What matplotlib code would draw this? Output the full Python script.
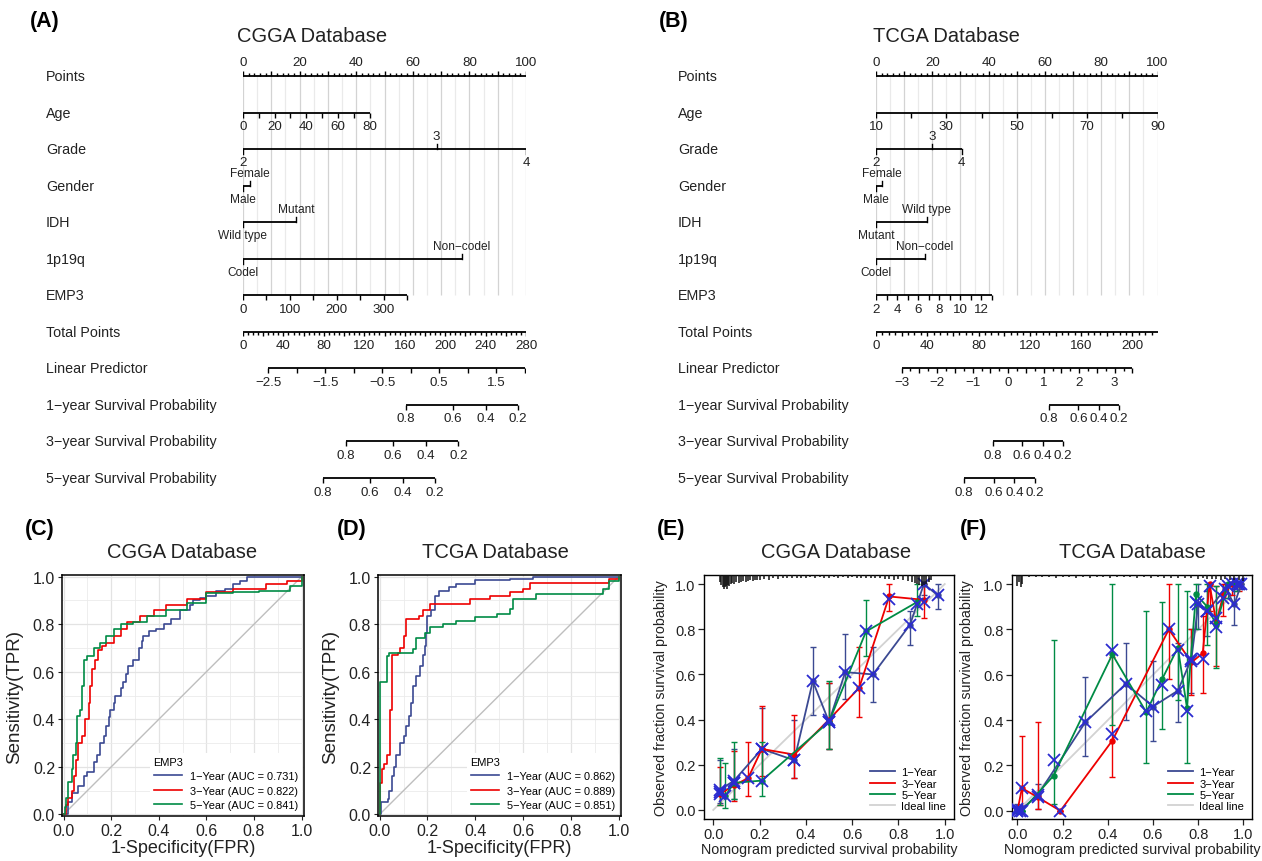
import numpy as np
import matplotlib.pyplot as plt
from matplotlib import transforms
from matplotlib.lines import Line2D

plt.rcParams['font.family'] = ['Liberation Sans', 'DejaVu Sans']

W, H = 1262, 862

# ---------------- nomogram data (value -> points) ----------------
ROW_LABELS = ['Points', 'Age', 'Grade', 'Gender', 'IDH', '1p19q', 'EMP3',
              'Total Points', 'Linear Predictor',
              '1\u2212year Survival Probability', '3\u2212year Survival Probability',
              '5\u2212year Survival Probability']
SURV_LABELS = ['0.8', '0.6', '0.4', '0.2']

# (A) CGGA
CGGA_AGE = [0, 80]
CGGA_AGE_PTS = [0, 44.7]
CGGA_GRADE = ['2', '3', '4']
CGGA_GRADE_PTS = [0, 68.4, 100]
CGGA_GENDER = ['Male', 'Female']
CGGA_GENDER_PTS = [0, 2.3]
CGGA_IDH = ['Wild type', 'Mutant']
CGGA_IDH_PTS = [0, 18.7]
CGGA_CODEL = ['Codel', 'Non\u2212codel']
CGGA_CODEL_PTS = [0, 77.3]
CGGA_EMP3 = [0, 350]
CGGA_EMP3_PTS = [0, 58.0]
CGGA_TOTAL = [0, 280]
CGGA_LP = [-2.5, 2.0]
CGGA_LP_PTS = [8.9, 99.5]
CGGA_SURV1_PTS = [57.7, 74.2, 85.8, 97.2]
CGGA_SURV3_PTS = [36.5, 52.9, 64.6, 76.1]
CGGA_SURV5_PTS = [28.2, 44.7, 56.5, 67.8]

# (B) TCGA
TCGA_AGE = [10, 90]
TCGA_AGE_PTS = [0, 100]
TCGA_GRADE = ['2', '3', '4']
TCGA_GRADE_PTS = [0, 19.9, 30.4]
TCGA_GENDER = ['Male', 'Female']
TCGA_GENDER_PTS = [0, 2.2]
TCGA_IDH = ['Mutant', 'Wild type']
TCGA_IDH_PTS = [0, 18.0]
TCGA_CODEL = ['Codel', 'Non\u2212codel']
TCGA_CODEL_PTS = [0, 17.4]
TCGA_EMP3 = [2, 13]
TCGA_EMP3_PTS = [0, 41.1]
TCGA_TOTAL = [0, 219.5]
TCGA_LP = [-3.0, 3.5]
TCGA_LP_PTS = [9.1, 91.1]
TCGA_SURV1_PTS = [61.3, 71.9, 79.2, 86.4]
TCGA_SURV3_PTS = [41.4, 51.8, 59.2, 66.4]
TCGA_SURV5_PTS = [31.3, 41.8, 49.2, 56.4]

# ---------------- ROC data ----------------
C_1Y_FPR = [0, 0.02, 0.035, 0.06, 0.084, 0.10, 0.126, 0.14, 0.154, 0.17, 0.18, 0.19, 0.196, 0.21, 0.217,
            0.24, 0.25, 0.26, 0.27, 0.29, 0.315, 0.33, 0.335, 0.36, 0.39, 0.42, 0.45, 0.49, 0.53, 0.545,
            0.575, 0.60, 0.64, 0.68, 0.71, 0.74, 0.77, 1.0]
C_1Y_TPR = [0, 0.05, 0.09, 0.12, 0.16, 0.18, 0.22, 0.25, 0.30, 0.33, 0.37, 0.41, 0.44, 0.47, 0.50,
            0.53, 0.555, 0.59, 0.625, 0.65, 0.70, 0.73, 0.75, 0.77, 0.78, 0.80, 0.82, 0.86, 0.88, 0.90,
            0.91, 0.92, 0.94, 0.95, 0.97, 0.98, 1.0, 1.0]
C_3Y_FPR = [0, 0.01, 0.02, 0.035, 0.045, 0.05, 0.06, 0.077, 0.09, 0.105, 0.11, 0.12, 0.133, 0.143,
            0.16, 0.18, 0.21, 0.24, 0.265, 0.32, 0.38, 0.43, 0.52, 0.60, 0.71, 0.85, 0.94, 1.0]
C_3Y_TPR = [0, 0.04, 0.07, 0.10, 0.16, 0.23, 0.30, 0.33, 0.40, 0.47, 0.54, 0.61, 0.65, 0.69,
            0.71, 0.72, 0.75, 0.78, 0.81, 0.835, 0.86, 0.88, 0.905, 0.935, 0.95, 0.97, 0.98, 1.0]
C_5Y_FPR = [0, 0.005, 0.01, 0.02, 0.035, 0.04, 0.05, 0.056, 0.07, 0.077, 0.084, 0.10, 0.126, 0.154,
            0.18, 0.21, 0.24, 0.29, 0.35, 0.43, 0.52, 0.60, 0.71, 0.82, 0.895, 0.95, 1.0]
C_5Y_TPR = [0, 0.03, 0.07, 0.135, 0.19, 0.25, 0.30, 0.415, 0.44, 0.54, 0.65, 0.665, 0.70, 0.72,
            0.75, 0.78, 0.80, 0.81, 0.835, 0.86, 0.89, 0.93, 0.935, 0.94, 0.94, 0.96, 1.0]
C_AUC = [0.731, 0.822, 0.841]

D_1Y_FPR = [0, 0.005, 0.035, 0.04, 0.05, 0.06, 0.07, 0.084, 0.10, 0.11, 0.123, 0.13, 0.14, 0.153,
            0.167, 0.18, 0.19, 0.195, 0.20, 0.216, 0.23, 0.25, 0.29, 0.32, 0.40, 0.545, 0.64, 1.0]
D_1Y_TPR = [0, 0.05, 0.065, 0.10, 0.16, 0.20, 0.25, 0.30, 0.33, 0.37, 0.415, 0.47, 0.54, 0.58,
            0.625, 0.67, 0.71, 0.765, 0.835, 0.86, 0.92, 0.94, 0.955, 0.97, 0.985, 0.99, 1.0, 1.0]
D_3Y_FPR = [0, 0.003, 0.01, 0.02, 0.03, 0.04, 0.045, 0.05, 0.077, 0.085, 0.10, 0.11, 0.153, 0.165,
            0.18, 0.21, 0.335, 0.377, 0.46, 0.545, 0.60, 0.63, 0.905, 0.96, 1.0]
D_3Y_TPR = [0, 0.13, 0.19, 0.21, 0.25, 0.25, 0.44, 0.67, 0.68, 0.70, 0.75, 0.82, 0.82, 0.835,
            0.86, 0.885, 0.885, 0.905, 0.92, 0.935, 0.95, 0.975, 0.975, 0.99, 1.0]
D_5Y_FPR = [0, 0.0, 0.02, 0.03, 0.04, 0.11, 0.14, 0.153, 0.19, 0.21, 0.265, 0.32, 0.40, 0.49,
            0.545, 0.56, 0.655, 0.82, 0.935, 0.96, 1.0]
D_5Y_TPR = [0, 0.555, 0.555, 0.665, 0.68, 0.68, 0.695, 0.74, 0.765, 0.787, 0.80, 0.815, 0.83, 0.845,
            0.865, 0.905, 0.925, 0.925, 0.95, 0.98, 1.0]
D_AUC = [0.862, 0.889, 0.851]

# ---------------- calibration data ----------------
E_1Y_X = [0.03, 0.09, 0.21, 0.35, 0.43, 0.50, 0.57, 0.69, 0.85, 0.91, 0.97]
E_1Y_Y = [0.09, 0.13, 0.27, 0.22, 0.57, 0.39, 0.61, 0.60, 0.82, 1.00, 0.95]
E_1Y_LO = [0.03, 0.05, 0.12, 0.14, 0.42, 0.27, 0.49, 0.48, 0.73, 0.95, 0.89]
E_1Y_HI = [0.22, 0.27, 0.45, 0.40, 0.72, 0.56, 0.78, 0.72, 0.88, 1.00, 1.00]
E_1Y_BC = [0.09, 0.13, 0.27, 0.22, 0.57, 0.39, 0.61, 0.60, 0.82, 1.00, 0.95]
E_3Y_X = [0.03, 0.09, 0.15, 0.21, 0.35, 0.50, 0.63, 0.76, 0.91]
E_3Y_Y = [0.07, 0.11, 0.14, 0.27, 0.245, 0.40, 0.54, 0.945, 0.93]
E_3Y_LO = [0.02, 0.04, 0.06, 0.15, 0.14, 0.27, 0.41, 0.88, 0.85]
E_3Y_HI = [0.19, 0.26, 0.30, 0.46, 0.42, 0.56, 0.72, 1.00, 1.00]
E_3Y_BC = [0.07, 0.12, 0.14, 0.27, 0.22, 0.40, 0.54, 0.935, 0.92]
E_5Y_X = [0.03, 0.05, 0.09, 0.21, 0.50, 0.66, 0.88]
E_5Y_Y = [0.08, 0.06, 0.12, 0.13, 0.39, 0.79, 0.92]
E_5Y_LO = [0.02, 0.01, 0.05, 0.06, 0.27, 0.68, 0.86]
E_5Y_HI = [0.23, 0.21, 0.30, 0.30, 0.57, 0.93, 1.00]
E_5Y_BC = [0.08, 0.06, 0.12, 0.13, 0.39, 0.79, 0.91]

F_1Y_X = [0.00, 0.01, 0.09, 0.30, 0.48, 0.60, 0.71, 0.77, 0.80, 0.84, 0.92, 0.96, 0.99]
F_1Y_Y = [0.01, 0.00, 0.07, 0.39, 0.56, 0.46, 0.53, 0.67, 0.91, 0.88, 0.98, 0.91, 1.00]
F_1Y_LO = [0.00, 0.00, 0.01, 0.24, 0.40, 0.31, 0.39, 0.52, 0.80, 0.77, 0.94, 0.82, 0.98]
F_1Y_HI = [0.03, 0.02, 0.12, 0.59, 0.74, 0.66, 0.74, 0.80, 1.00, 0.97, 1.00, 1.00, 1.00]
F_1Y_BC = [0.01, 0.00, 0.07, 0.39, 0.56, 0.46, 0.53, 0.67, 0.91, 0.88, 0.98, 0.91, 1.00]
F_3Y_X = [0.00, 0.02, 0.09, 0.19, 0.42, 0.67, 0.77, 0.82, 0.85, 0.88, 0.91, 0.95, 0.98]
F_3Y_Y = [0.00, 0.10, 0.06, 0.00, 0.31, 0.80, 0.655, 0.695, 1.00, 0.83, 0.95, 1.00, 1.00]
F_3Y_LO = [0.00, 0.00, 0.01, 0.00, 0.15, 0.58, 0.51, 0.52, 0.88, 0.64, 0.86, 0.95, 0.97]
F_3Y_HI = [0.00, 0.33, 0.39, 0.00, 0.68, 1.00, 0.80, 0.86, 1.00, 0.99, 1.00, 1.00, 1.00]
F_3Y_BC = [0.00, 0.10, 0.06, 0.00, 0.34, 0.80, 0.66, 0.67, 0.99, 0.85, 0.94, 1.00, 1.00]
F_5Y_X = [0.00, 0.02, 0.16, 0.42, 0.57, 0.64, 0.71, 0.75, 0.79, 0.84, 0.88, 0.93, 0.97]
F_5Y_Y = [0.00, 0.00, 0.155, 0.69, 0.435, 0.58, 0.72, 0.455, 0.955, 0.90, 0.82, 1.00, 1.00]
F_5Y_LO = [0.00, 0.00, 0.03, 0.38, 0.21, 0.36, 0.49, 0.21, 0.80, 0.73, 0.63, 0.94, 0.97]
F_5Y_HI = [0.00, 0.00, 0.755, 1.00, 0.88, 0.92, 1.00, 0.97, 1.00, 1.00, 0.99, 1.00, 1.00]
F_5Y_BC = [0.00, 0.00, 0.225, 0.71, 0.44, 0.555, 0.71, 0.44, 0.92, 0.88, 0.81, 0.99, 1.00]

# rug of predicted probabilities along the top edge (position, spike length)
E_RUG_X = [0.03, 0.035, 0.04, 0.045, 0.05, 0.055, 0.06, 0.065, 0.07, 0.075,
           0.08, 0.09, 0.10, 0.11, 0.12, 0.13, 0.14, 0.15, 0.16, 0.17,
           0.18, 0.19, 0.20, 0.22, 0.24, 0.26, 0.28, 0.30, 0.32, 0.34,
           0.36, 0.38, 0.40, 0.42, 0.44, 0.46, 0.48, 0.50, 0.52, 0.54,
           0.56, 0.58, 0.60, 0.62, 0.64, 0.66, 0.68, 0.70, 0.72, 0.74,
           0.76, 0.78, 0.80, 0.82, 0.84, 0.86, 0.87, 0.88, 0.89, 0.90,
           0.91, 0.92, 0.93, 0.94]
E_RUG_H = [0.03, 0.045, 0.055, 0.06, 0.055, 0.05, 0.06, 0.045, 0.05, 0.04,
           0.035, 0.04, 0.03, 0.035, 0.03, 0.025, 0.03, 0.025, 0.02, 0.025,
           0.02, 0.02, 0.022, 0.018, 0.02, 0.015, 0.018, 0.015, 0.012, 0.015,
           0.012, 0.014, 0.012, 0.01, 0.013, 0.01, 0.012, 0.014, 0.01, 0.012,
           0.01, 0.013, 0.01, 0.012, 0.014, 0.012, 0.015, 0.013, 0.015, 0.016,
           0.018, 0.02, 0.018, 0.022, 0.025, 0.03, 0.035, 0.04, 0.045, 0.05,
           0.045, 0.04, 0.03, 0.02]
F_RUG_X = [0.0, 0.005, 0.015, 0.02, 0.05, 0.08, 0.11, 0.14, 0.17, 0.20,
           0.23, 0.26, 0.29, 0.32, 0.35, 0.38, 0.41, 0.44, 0.47, 0.50,
           0.53, 0.56, 0.59, 0.62, 0.65, 0.68, 0.71, 0.74, 0.77, 0.80,
           0.82, 0.84, 0.86, 0.88, 0.90, 0.92, 0.94, 0.96, 0.98, 1.0]
F_RUG_H = [0.05, 0.03, 0.055, 0.04, 0.01, 0.008, 0.01, 0.008, 0.012, 0.01,
           0.008, 0.012, 0.01, 0.012, 0.008, 0.01, 0.012, 0.01, 0.008, 0.01,
           0.012, 0.01, 0.012, 0.01, 0.012, 0.014, 0.012, 0.015, 0.014, 0.016,
           0.015, 0.018, 0.016, 0.018, 0.02, 0.018, 0.02, 0.022, 0.02, 0.025]

COLORS = ['#3B4992', '#EE0000', '#008B45']
XMARK = '#2B2BD0'
YEARS = ['1\u2212Year', '3\u2212Year', '5\u2212Year']

fig = plt.figure(figsize=(W / 100, H / 100), dpi=100)


def px_axes(x0, y0, x1, y1):
    return fig.add_axes([x0 / W, 1 - y1 / H, (x1 - x0) / W, (y1 - y0) / H])


# ---------------- nomograms ----------------
ROW_PX = 36.55


def to_pts(vals, rng, pts_rng):
    vals = np.asarray(vals, dtype=float)
    return pts_rng[0] + (vals - rng[0]) * (pts_rng[1] - pts_rng[0]) / (rng[1] - rng[0])


def fmt(v):
    return f'{v:g}'.replace('-', '\u2212')


def ruler(ax, row, tick_x, tick_len, lab_x, labs, up=False, line=None, fs=9.6):
    sgn = -1 if up else 1
    lo, hi = line if line else (min(tick_x), max(tick_x))
    ax.plot([lo, hi], [row, row], color='black', lw=1.3, solid_capstyle='butt')
    ax.vlines(tick_x, row, row + sgn * np.asarray(tick_len, float) / ROW_PX, color='black', lw=1.0)
    for x, s in zip(lab_x, labs):
        ax.text(x, row + sgn * 13.5 / ROW_PX, s, ha='center', va='center', fontsize=fs, color='#222222')


def cat_row(ax, row, pts, labs, fs=8.6):
    ax.plot([min(pts), max(pts)], [row, row], color='black', lw=1.3, solid_capstyle='butt')
    for i, (x, s) in enumerate(zip(pts, labs)):
        sgn = 1 if i % 2 == 0 else -1
        ax.plot([x, x], [row, row + sgn * 5 / ROW_PX], color='black', lw=1.0)
        ax.text(x, row + sgn * 13 / ROW_PX, s, ha='center', va='center', fontsize=fs, color='#222222')


def nomogram(rect, label_x, title, title_x, age, age_pts, age_step, age_lab_step,
             grade, grade_pts, gender, gender_pts, idh, idh_pts, codel, codel_pts,
             emp3, emp3_pts, emp3_step, emp3_lab_step, total, lp, lp_pts, lp_step, lp_labs,
             surv_rows):
    ax = px_axes(*rect)
    ax.set_xlim(0, 100)
    ax.set_ylim(11.5, -0.5)
    ax.axis('off')
    tr = transforms.blended_transform_factory(fig.transFigure, ax.transData)
    for i, lab in enumerate(ROW_LABELS):
        ax.text(label_x / W, i, lab, transform=tr, ha='left', va='center', fontsize=10.3, color='#222222')
    fig.text(title_x / W, 1 - 37 / H, title, ha='center', va='center', fontsize=14.5, color='#222222')

    # reference lines
    ax.vlines(np.arange(5, 100, 10), 0, 6, color='#EAEAEA', lw=0.9, zorder=0)
    ax.vlines(np.arange(0, 101, 10), 0, 6, color='#D3D3D3', lw=0.9, zorder=0)

    # Points
    pt = np.arange(0, 101, 2)
    ruler(ax, 0, pt, np.where(pt % 10 == 0, 4.5, 2.5), np.arange(0, 101, 20),
          [fmt(v) for v in np.arange(0, 101, 20)], up=True)
    # Age
    a_t = np.arange(age[0], age[1] + 0.01, age_step)
    a_l = np.arange(age[0], age[1] + 0.01, age_lab_step)
    ruler(ax, 1, to_pts(a_t, age, age_pts), [5] * len(a_t), to_pts(a_l, age, age_pts), [fmt(v) for v in a_l])
    cat_row(ax, 2, grade_pts, grade, fs=9.6)
    cat_row(ax, 3, gender_pts, gender)
    cat_row(ax, 4, idh_pts, idh)
    cat_row(ax, 5, codel_pts, codel)
    # EMP3
    e_t = np.arange(emp3[0], emp3[1] + 0.01, emp3_step)
    e_l = np.arange(emp3[0], emp3[1] + 0.01, emp3_lab_step)
    ruler(ax, 6, to_pts(e_t, emp3, emp3_pts), [5] * len(e_t), to_pts(e_l, emp3, emp3_pts), [fmt(v) for v in e_l])
    # Total points
    t_t = np.arange(0, total[1] + 0.01, 5)
    t_l = np.arange(0, total[1] + 0.01, 40)
    ruler(ax, 7, to_pts(t_t, total, [0, 100]), np.where(t_t % 20 == 0, 4.5, 2.8),
          to_pts(t_l, total, [0, 100]), [fmt(v) for v in t_l], line=(0, 100))
    # Linear predictor
    l_t = np.arange(lp[0], lp[1] + 0.001, lp_step)
    ruler(ax, 8, to_pts(l_t, lp, lp_pts), np.where(np.isclose(l_t % 0.5, 0) | np.isclose(l_t % 0.5, 0.5), 4.5, 3),
          to_pts(lp_labs, lp, lp_pts), [fmt(v) for v in lp_labs])
    # survival probabilities
    for k, sp in enumerate(surv_rows):
        ruler(ax, 9 + k, sp, [5] * len(sp), sp, SURV_LABELS)
    return ax


nomogram((243, 58.7, 526, 497.3), 46, 'CGGA Database', 312,
         CGGA_AGE, CGGA_AGE_PTS, 10, 20, CGGA_GRADE, CGGA_GRADE_PTS, CGGA_GENDER, CGGA_GENDER_PTS,
         CGGA_IDH, CGGA_IDH_PTS, CGGA_CODEL, CGGA_CODEL_PTS, CGGA_EMP3, CGGA_EMP3_PTS, 50, 100,
         CGGA_TOTAL, CGGA_LP, CGGA_LP_PTS, 0.5, [-2.5, -1.5, -0.5, 0.5, 1.5],
         [CGGA_SURV1_PTS, CGGA_SURV3_PTS, CGGA_SURV5_PTS])
nomogram((876, 58.7, 1157.5, 497.3), 678, 'TCGA Database', 946,
         TCGA_AGE, TCGA_AGE_PTS, 10, 20, TCGA_GRADE, TCGA_GRADE_PTS, TCGA_GENDER, TCGA_GENDER_PTS,
         TCGA_IDH, TCGA_IDH_PTS, TCGA_CODEL, TCGA_CODEL_PTS, TCGA_EMP3, TCGA_EMP3_PTS, 1, 2,
         TCGA_TOTAL, TCGA_LP, TCGA_LP_PTS, 0.25, [-3, -2, -1, 0, 1, 2, 3],
         [TCGA_SURV1_PTS, TCGA_SURV3_PTS, TCGA_SURV5_PTS])


# ---------------- ROC panels ----------------
def roc_panel(rect, title, title_x, curves, aucs):
    ax = px_axes(*rect)
    ax.set_xlim(-0.007, 1.01)
    ax.set_ylim(-0.007, 1.007)
    ticks = np.arange(0, 1.01, 0.2)
    ax.set_xticks(ticks)
    ax.set_yticks(ticks)
    ax.set_xticklabels([f'{t:.1f}' for t in ticks])
    ax.set_yticklabels([f'{t:.1f}' for t in ticks])
    ax.set_xticks(np.arange(0.1, 1, 0.2), minor=True)
    ax.set_yticks(np.arange(0.1, 1, 0.2), minor=True)
    ax.grid(which='major', color='#E3E3E3', lw=0.9)
    ax.grid(which='minor', color='#EBEBEB', lw=0.6)
    ax.set_axisbelow(True)
    ax.tick_params(which='minor', length=0)
    ax.tick_params(which='major', length=3, width=0.8, labelsize=11.5, pad=2, colors='#222222')
    for s in ax.spines.values():
        s.set_linewidth(1.1)
        s.set_color('black')
    ax.plot([0, 1], [0, 1], color='#BEBEBE', lw=1.0)
    for (x, y), c in zip(curves, COLORS):
        ax.plot(x, y, color=c, lw=1.2, drawstyle='steps-post')
    handles = [Line2D([0], [0], color=c, lw=1.2) for c in COLORS]
    labels = [f'{yr} (AUC = {a:.3f})' for yr, a in zip(YEARS, aucs)]
    ax.legend(handles, labels, title='EMP3', loc='lower right', bbox_to_anchor=(1.0, 0.0),
              fontsize=7.9, title_fontsize=7.9, alignment='left', frameon=True,
              facecolor='white', edgecolor='none', framealpha=1, handlelength=2.6,
              handletextpad=0.7, labelspacing=0.4, borderpad=0.35, borderaxespad=0.2)
    ax.set_xlabel('1-Specificity(FPR)', fontsize=13, color='#222222')
    ax.set_ylabel('Sensitivity(TPR)', fontsize=13.5, color='#222222')
    ax.xaxis.set_label_coords(0.5, -0.095)
    ax.yaxis.set_label_coords(-0.16, 0.5)
    fig.text(title_x / W, 1 - 553 / H, title, ha='center', va='center', fontsize=14.5, color='#222222')
    return ax


roc_panel((62, 576, 304, 817), 'CGGA Database', 182,
          [(C_1Y_FPR, C_1Y_TPR), (C_3Y_FPR, C_3Y_TPR), (C_5Y_FPR, C_5Y_TPR)], C_AUC)
roc_panel((378, 576, 621, 817), 'TCGA Database', 495,
          [(D_1Y_FPR, D_1Y_TPR), (D_3Y_FPR, D_3Y_TPR), (D_5Y_FPR, D_5Y_TPR)], D_AUC)


# ---------------- calibration panels ----------------
def calib_panel(rect, title, title_x, series, rug_x, rug_h, xlim, ylim, ylab_x):
    ax = px_axes(*rect)
    ax.set_xlim(*xlim)
    ax.set_ylim(*ylim)
    ticks = np.arange(0, 1.01, 0.2)
    ax.set_xticks(ticks)
    ax.set_yticks(ticks)
    ax.set_xticklabels([f'{t:.1f}' for t in ticks])
    ax.set_yticklabels([f'{t:.1f}' for t in ticks])
    ax.tick_params(direction='out', length=4, width=0.9, labelsize=10.5, pad=2, colors='#222222')
    for s in ax.spines.values():
        s.set_linewidth(1.0)
        s.set_color('black')
    ax.plot([0, 1], [0, 1], color='#D2D2D2', lw=1.3, zorder=1)
    for (x, y, lo, hi, bc), c in zip(series, COLORS):
        x, y, lo, hi = map(np.asarray, (x, y, lo, hi))
        ax.errorbar(x, y, yerr=[y - lo, hi - y], fmt='none', ecolor=c, elinewidth=1.0,
                    capsize=2.2, capthick=1.0, zorder=2)
        ax.plot(x, y, color=c, lw=1.3, marker='o', ms=3.6, zorder=3)
        ax.plot(x, bc, ls='none', marker='x', color=XMARK, ms=8, mew=1.3, zorder=4)
    ax.vlines(rug_x, ylim[1] - np.asarray(rug_h), ylim[1], color='#111111', lw=1.1, zorder=5)
    handles = [Line2D([0], [0], color=c, lw=1.3) for c in COLORS] + [Line2D([0], [0], color='#D2D2D2', lw=1.3)]
    ax.legend(handles, YEARS + ['Ideal line'], loc='lower right', frameon=False, fontsize=8,
              handlelength=2.2, handletextpad=0.6, labelspacing=0.12, borderaxespad=0.3)
    ax.set_xlabel('Nomogram predicted survival probability', fontsize=10.3, color='#222222')
    ax.set_ylabel('Observed fraction survival probability', fontsize=10.3, color='#222222')
    ax.xaxis.set_label_coords(0.5, -0.095)
    ax.yaxis.set_label_coords(ylab_x, 0.5)
    fig.text(title_x / W, 1 - 553 / H, title, ha='center', va='center', fontsize=14.5, color='#222222')
    return ax


calib_panel((704, 576, 954, 820), 'CGGA Database', 836,
            [(E_1Y_X, E_1Y_Y, E_1Y_LO, E_1Y_HI, E_1Y_BC),
             (E_3Y_X, E_3Y_Y, E_3Y_LO, E_3Y_HI, E_3Y_BC),
             (E_5Y_X, E_5Y_Y, E_5Y_LO, E_5Y_HI, E_5Y_BC)],
            E_RUG_X, E_RUG_H, (-0.04, 1.04), (-0.04, 1.04), -0.145)
calib_panel((1012, 576, 1252, 820), 'TCGA Database', 1132,
            [(F_1Y_X, F_1Y_Y, F_1Y_LO, F_1Y_HI, F_1Y_BC),
             (F_3Y_X, F_3Y_Y, F_3Y_LO, F_3Y_HI, F_3Y_BC),
             (F_5Y_X, F_5Y_Y, F_5Y_LO, F_5Y_HI, F_5Y_BC)],
            F_RUG_X, F_RUG_H, (-0.024, 1.038), (-0.036, 1.04), -0.16)

# panel letters
for lab, x, y in [('(A)', 30, 22), ('(B)', 659, 22), ('(C)', 25, 530),
                  ('(D)', 337, 530), ('(E)', 657, 530), ('(F)', 960, 530)]:
    fig.text(x / W, 1 - y / H, lab, ha='left', va='center', fontsize=15.5, fontweight='bold')

fig.savefig('out.png', dpi=100)
